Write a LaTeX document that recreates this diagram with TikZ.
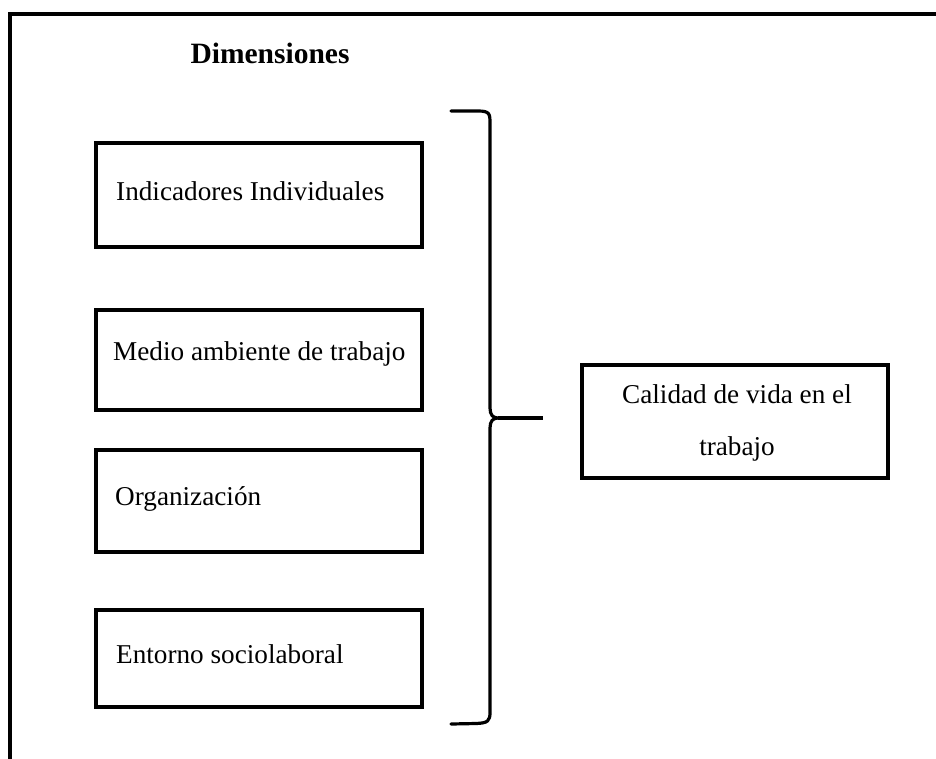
\documentclass[tikz,border=0pt]{standalone}
\usepackage{fontspec}
\setmainfont{Liberation Serif}
\begin{document}
\begin{tikzpicture}[x=1pt,y=-1pt,
  box/.style={draw,line width=4pt,rectangle,inner sep=0pt,outer sep=0pt,anchor=north west},
  lbl/.style={inner sep=0pt,font=\fontsize{27.2}{27.2}\selectfont,anchor=base west},
  brace/.style={line width=3.2pt,line cap=round}]
\useasboundingbox (0,0) rectangle (936,758);
% outer frame (continues beyond the picture)
\coordinate (fbl) at (10,770);
\coordinate (ftl) at (10,14);
\coordinate (ftr) at (950,14);
\draw[line width=4pt] (fbl) -- (ftl) -- (ftr);
% title
\node[inner sep=0pt,font=\fontsize{29.5}{29.5}\selectfont\bfseries,anchor=base] (title) at (270,63) {Dimensiones};
% boxes
\node[box,minimum width=326pt,minimum height=104pt] (b1) at (96,143) {};
\node[box,minimum width=326pt,minimum height=100pt] (b2) at (96,310) {};
\node[box,minimum width=326pt,minimum height=102pt] (b3) at (96,450) {};
\node[box,minimum width=326pt,minimum height=97pt] (b4) at (96,610) {};
\node[lbl] (t1) at (116,200) {Indicadores Individuales};
\node[lbl] (t2) at (113,360) {Medio ambiente de trabajo};
\node[lbl] (t3) at (115,505) {Organización};
\node[lbl] (t4) at (116,663) {Entorno sociolaboral};
% result box
\node[box,minimum width=306pt,minimum height=113pt] (res) at (582,365) {};
\node[inner sep=0pt,font=\fontsize{27.2}{27.2}\selectfont,anchor=base] (r1) at (737,403) {Calidad de vida en el};
\node[inner sep=0pt,font=\fontsize{27.2}{27.2}\selectfont,anchor=base] (r2) at (737,455) {trabajo};
% brace
\coordinate (btop) at (451,111);
\coordinate (bbot) at (451,724);
\coordinate (tip) at (498,418);
\coordinate (stub) at (543,418);
\draw[brace] (btop) -- (478,111) .. controls (490,111) and (490,114) .. (490,124)
  -- (490,408) .. controls (490,415) and (493,418) .. (tip)
  .. controls (493,418) and (490,421) .. (490,428)
  -- (490,712) .. controls (490,721) and (488,723) .. (476,723.5) -- (bbot);
\draw[brace,line cap=butt] (tip) -- (stub);
\end{tikzpicture}
\end{document}
